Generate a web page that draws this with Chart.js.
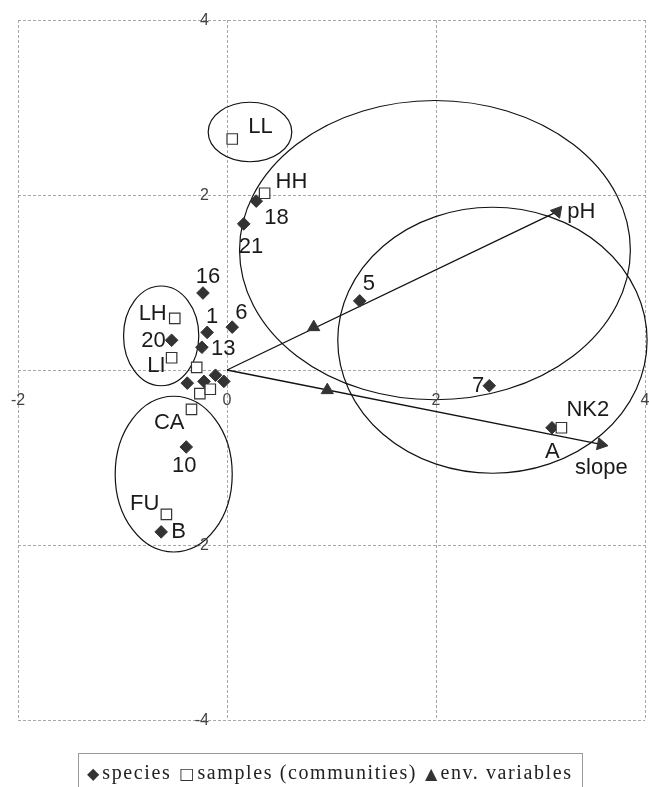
<!DOCTYPE html>
<html>
<head>
<meta charset="utf-8">
<script src="https://cdn.jsdelivr.net/npm/chart.js@4.4.0/dist/chart.umd.min.js"></script>
<style>
body{margin:0;background:#fff;}
#wrap{position:relative;width:649px;height:787px;overflow:hidden;}
#legend{position:absolute;left:78px;top:753px;width:505px;height:45px;border:1px solid #999;box-sizing:border-box;
  font-family:"Liberation Serif",serif;font-size:20px;letter-spacing:1.6px;color:#222;padding-left:8px;line-height:36px;white-space:nowrap;}
#legend .m{font-family:"DejaVu Sans",sans-serif;font-size:16px;color:#333;letter-spacing:0;margin-right:3px;}
#legend .g{margin-right:8px;}
</style>
</head>
<body>
<div id="wrap">
<canvas id="ord" width="649" height="787"></canvas>
<div id="legend"><span class="m">◆</span><span class="g">species</span><span class="m">□</span><span class="g">samples (communities)</span><span class="m">▲</span>env. variables</div>
</div>
<script>
/* DATA */
const speciesNames=["18","21","16","1","6","20","13","","","","","10","B","5","7","A"];
const speciesX=[0.28,0.16,-0.23,-0.19,0.05,-0.53,-0.24,-0.38,-0.22,-0.11,-0.03,-0.39,-0.63,1.27,2.51,3.11];
const speciesY=[1.93,1.67,0.88,0.43,0.49,0.34,0.26,-0.15,-0.13,-0.06,-0.13,-0.88,-1.85,0.79,-0.18,-0.66];

const sampleNames=["LL","HH","LH","LI","","","","CA","FU","NK2"];
const sampleX=[0.05,0.36,-0.50,-0.53,-0.29,-0.26,-0.16,-0.34,-0.58,3.20];
const sampleY=[2.64,2.02,0.59,0.14,0.03,-0.27,-0.22,-0.45,-1.65,-0.66];

const envNames=["pH","slope"];
const envX=[3.16,3.58];
const envY=[1.81,-0.85];
const envMidX=[0.83,0.96];
const envMidY=[0.49,-0.23];

const xTicks=[-2,0,2,4];
const yTicks=[4,2,-2,-4];

/* group outlines: centre and half axes, in axis units */
const groupCX=[0.22,1.99,2.54,-0.63,-0.51];
const groupCY=[2.72,1.37,0.34,0.39,-1.19];
const groupRX=[0.40,1.87,1.48,0.36,0.56];
const groupRY=[0.34,1.71,1.52,0.57,0.89];

/* label placement: [dx, dy, align] in pixels from the marker */
const labelPlace={
    "18":[8,17,"left"],"21":[-5,23,"left"],"16":[5,-16,"center"],"1":[5,-15,"center"],
    "6":[3,-14,"left"],"20":[-6,1,"right"],"13":[9,2,"left"],"10":[-2,19,"center"],
    "B":[10,0,"left"],"5":[3,-17,"left"],"7":[-5,0,"right"],"A":[-7,24,"left"],
    "LL":[16,-12,"left"],"HH":[11,-11,"left"],"LH":[-8,-4,"right"],"LI":[-6,8,"right"],
    "CA":[-7,14,"right"],"FU":[-7,-10,"right"],"NK2":[5,-18,"left"],
    "pH":[10,0,"left"],"slope":[-26,24,"left"]
};

function pts(xs,ys){
    return xs.map((x,i)=>({x:x,y:ys[i]}));
}

let envPts=[];
let envPtNames=[];
envNames.forEach((n,i)=>{
    envPts.push({x:envMidX[i],y:envMidY[i]});
    envPtNames.push("");
    envPts.push({x:envX[i],y:envY[i]});
    envPtNames.push(n);
});

let arrows=envNames.map((n,i)=>({
    type:"scatter",
    data:[{x:0,y:0},{x:envX[i],y:envY[i]}],
    showLine:true,
    borderColor:"#111",
    borderWidth:1.3,
    pointRadius:0,
    names:[]
}));

/* ELLIPSES, LABELS, TICKS */
const extras={
    id:"extras",
    beforeDatasetsDraw(chart){
        let ctx=chart.ctx, xs=chart.scales.x, ys=chart.scales.y;
        ctx.save();
        ctx.strokeStyle="#111";
        ctx.lineWidth=1.2;
        groupCX.forEach((cx,i)=>{
            let px=xs.getPixelForValue(cx), py=ys.getPixelForValue(groupCY[i]);
            let rx=Math.abs(xs.getPixelForValue(cx+groupRX[i])-px);
            let ry=Math.abs(ys.getPixelForValue(groupCY[i]+groupRY[i])-py);
            ctx.beginPath();
            ctx.ellipse(px,py,rx,ry,0,0,Math.PI*2);
            ctx.stroke();
        });
        ctx.restore();
    },
    afterDatasetsDraw(chart){
        let ctx=chart.ctx;
        ctx.save();
        ctx.font="22px 'Liberation Sans', Arial, sans-serif";
        ctx.fillStyle="#1a1a1a";
        ctx.textBaseline="middle";
        chart.data.datasets.forEach((ds,d)=>{
            let meta=chart.getDatasetMeta(d);
            (ds.names||[]).forEach((n,j)=>{
                if(!n) return;
                let p=meta.data[j], lp=labelPlace[n]||[6,0,"left"];
                ctx.textAlign=lp[2];
                ctx.fillText(n,p.x+lp[0],p.y+lp[1]);
            });
        });

        let xs=chart.scales.x, ys=chart.scales.y;
        ctx.font="16px 'Liberation Sans', Arial, sans-serif";
        ctx.fillStyle="#444";
        ctx.textAlign="center";
        xTicks.forEach(v=>{
            ctx.fillText(String(v),xs.getPixelForValue(v),ys.getPixelForValue(0)+31);
        });
        ctx.textAlign="right";
        yTicks.forEach(v=>{
            ctx.fillText(String(v),xs.getPixelForValue(0)-18,ys.getPixelForValue(v)+1);
        });
        ctx.restore();
    }
};

new Chart(
document.getElementById("ord"),
{
    type:"scatter",

    data:{
        datasets:[
        {
            label:"samples (communities)",
            data:pts(sampleX,sampleY),
            names:sampleNames,
            pointStyle:"rect",
            pointRadius:7.4,
            backgroundColor:"#fff",
            borderColor:"#333",
            borderWidth:1.2
        },
        {
            label:"species",
            data:pts(speciesX,speciesY),
            names:speciesNames,
            pointStyle:"rectRot",
            pointRadius:6.3,
            backgroundColor:"#333",
            borderColor:"#333",
            borderWidth:1
        },
        {
            label:"env. variables",
            data:envPts,
            names:envPtNames,
            pointStyle:"triangle",
            pointRadius:7,
            rotation:[0,160,0,101],
            backgroundColor:"#333",
            borderColor:"#333",
            borderWidth:1
        }
        ].concat(arrows)
    },

    options:{
        responsive:false,
        animation:false,
        layout:{autoPadding:false,padding:{left:18,top:20,right:4,bottom:67}},
        plugins:{
            legend:{display:false},
            tooltip:{enabled:false}
        },
        scales:{
            x:{
                type:"linear",min:-2,max:4,
                ticks:{display:false,stepSize:2},
                grid:{color:"#a8a8a8",lineWidth:1,drawTicks:false},
                border:{display:false,dash:[3,2]}
            },
            y:{
                type:"linear",min:-4,max:4,
                ticks:{display:false,stepSize:2},
                grid:{color:"#a8a8a8",lineWidth:1,drawTicks:false},
                border:{display:false,dash:[3,2]}
            }
        }
    },

    plugins:[extras]
});
</script>
</body>
</html>
